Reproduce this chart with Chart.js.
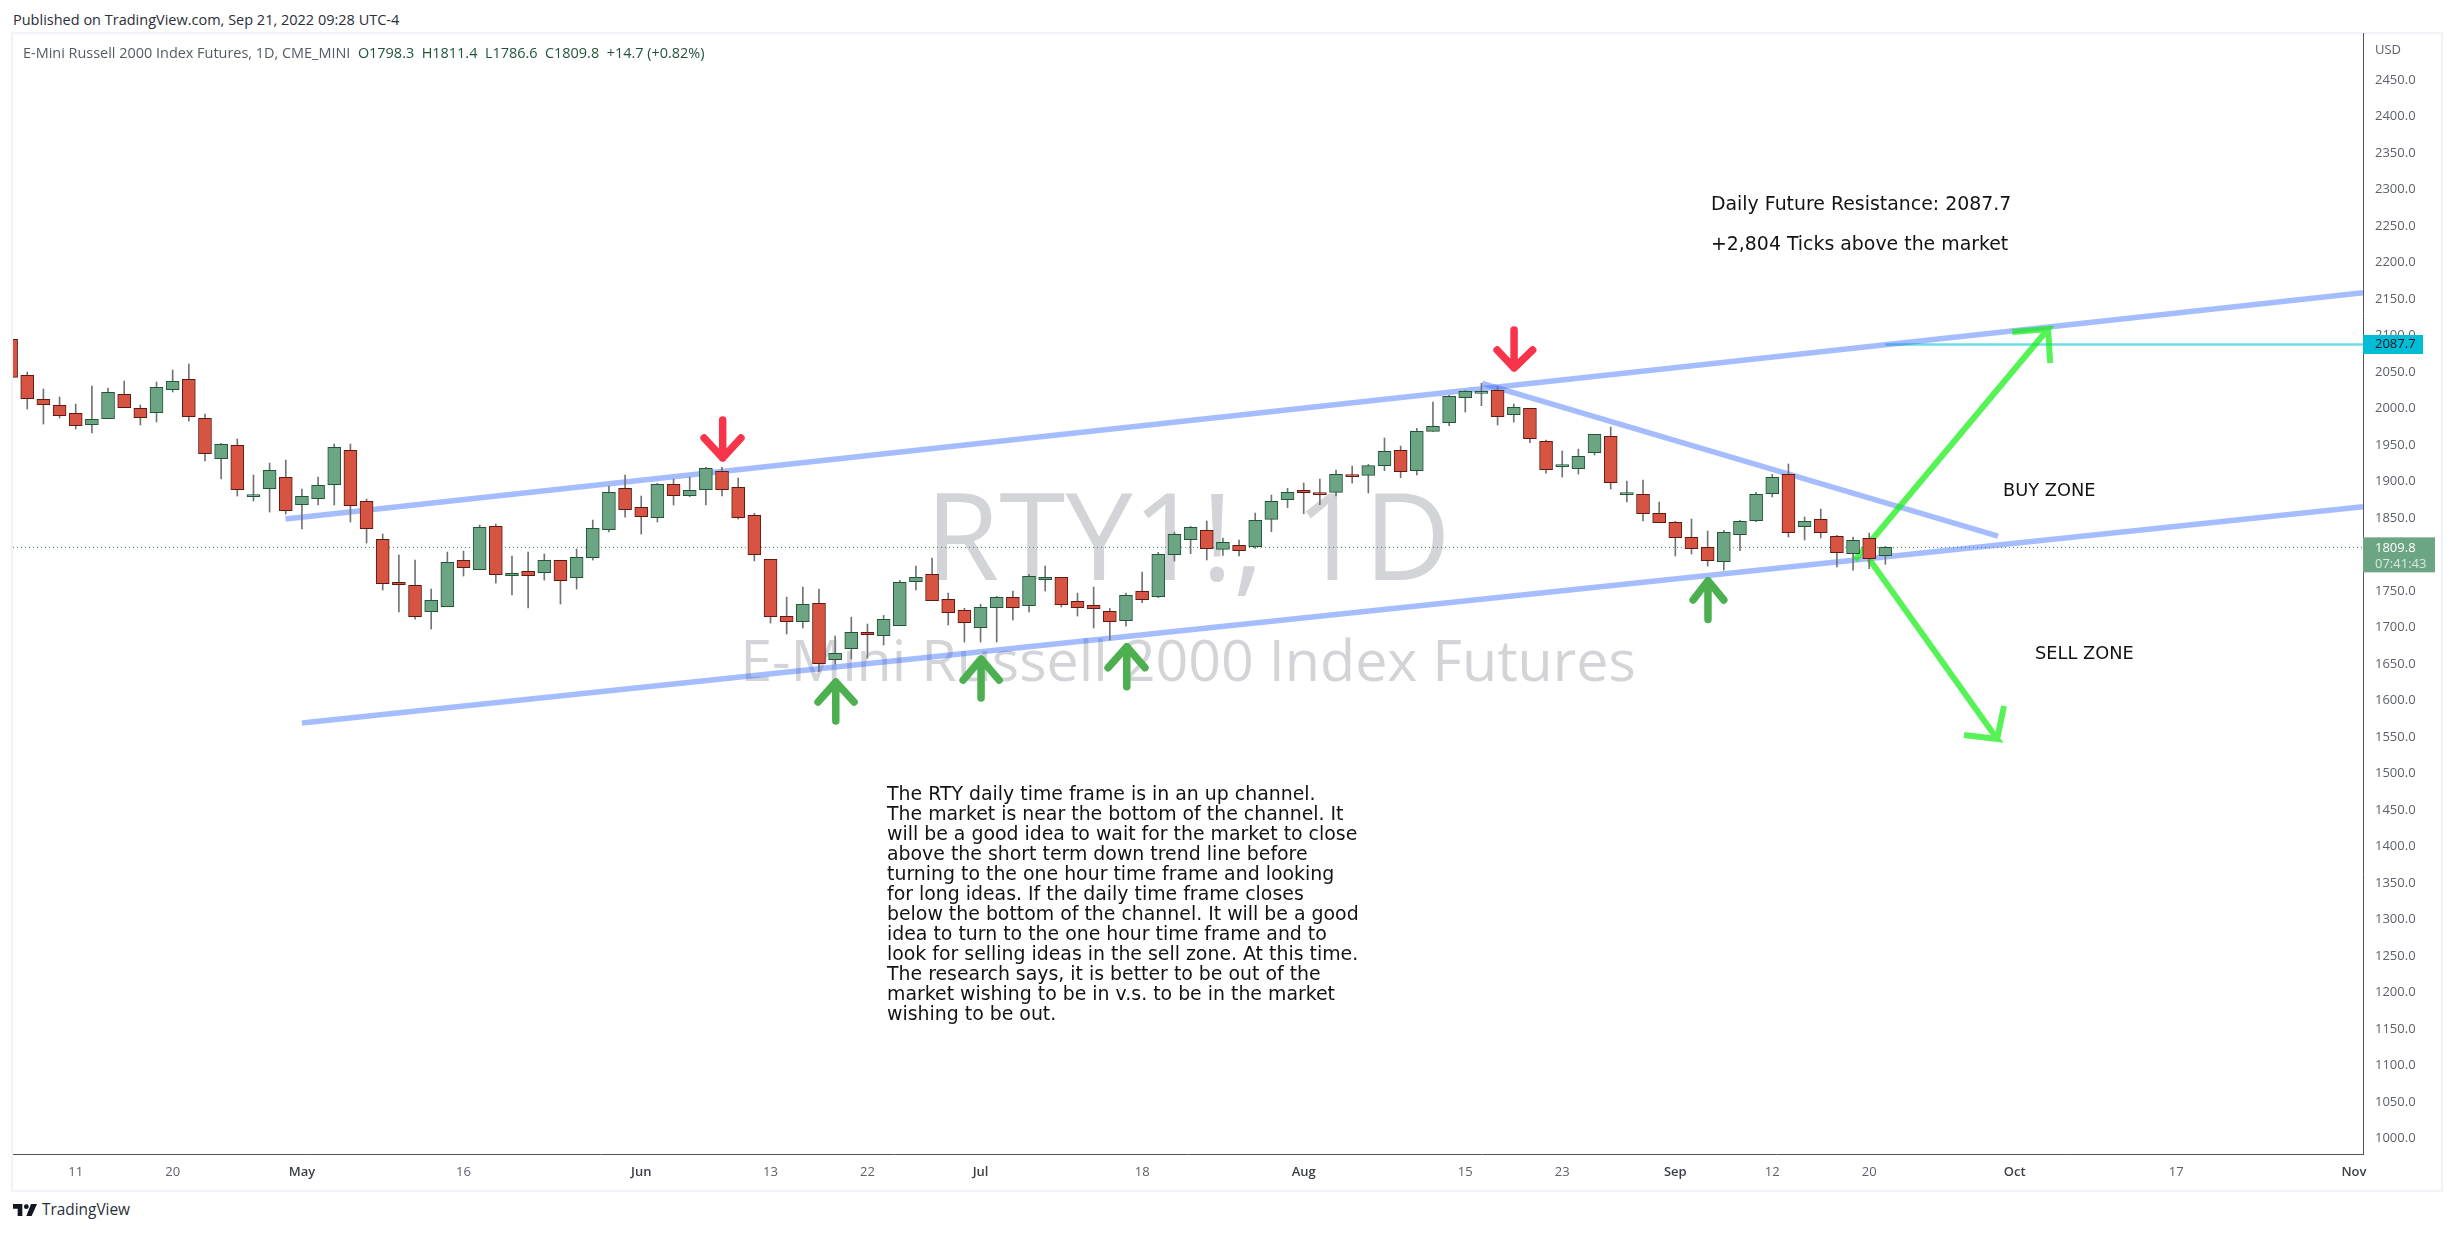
<!DOCTYPE html>
<html>
<head>
<meta charset="utf-8">
<script src="https://cdn.jsdelivr.net/npm/chart.js@4"></script>
<style>
html, body { margin: 0; padding: 0; background: #fff; width: 2453px; height: 1233px; overflow: hidden; }
body { font-family: "Open Sans", sans-serif; position: relative; }
.abs { position: absolute; white-space: pre; }
#frame { left: 11px; top: 32px; width: 2428px; height: 1156px; border: 2px solid #f0f3fa; }
#chart { position: absolute; left: 0; top: 0; z-index: 2; }
.wm { color: #d3d4d8; z-index: 1; left: 13px; width: 2350px; text-align: center; line-height: 1; }
.note { z-index: 3; color: #131313; font-family: "DejaVu Sans", sans-serif; font-size: 18.9px; line-height: 20px; }
.zone { font-size: 17.8px; }
</style>
</head>
<body>
<div class="abs" id="frame"></div>
<div class="abs" style="left:13px;top:11px;font-size:14.5px;line-height:18px;color:#2a2e39">Published on TradingView.com, Sep 21, 2022 09:28 UTC-4</div>
<div class="abs" style="left:23px;top:44px;font-size:14.45px;line-height:18px;color:#555a66;z-index:3">E-Mini Russell 2000 Index Futures, 1D, CME_MINI  <span style="color:#225437">O1798.3  H1811.4  L1786.6  C1809.8  +14.7 (+0.82%)</span></div>
<div class="abs wm" style="top:474px;font-size:120px">RTY1!, 1D</div>
<div class="abs wm" style="top:631px;font-size:57.4px">E-Mini Russell 2000 Index Futures</div>
<div class="abs note" style="left:1711px;top:193px">Daily Future Resistance: 2087.7</div>
<div class="abs note" style="left:1711px;top:233px">+2,804 Ticks above the market</div>
<div class="abs note zone" style="left:2003px;top:480px">BUY ZONE</div>
<div class="abs note zone" style="left:2035px;top:643px">SELL ZONE</div>
<div class="abs note" style="left:887px;top:783px">The RTY daily time frame is in an up channel.
The market is near the bottom of the channel. It
will be a good idea to wait for the market to close
above the short term down trend line before
turning to the one hour time frame and looking
for long ideas. If the daily time frame closes
below the bottom of the channel. It will be a good
idea to turn to the one hour time frame and to
look for selling ideas in the sell zone. At this time.
The research says, it is better to be out of the
market wishing to be in v.s. to be in the market
wishing to be out.</div>
<svg class="abs" style="left:13px;top:1204px" width="24" height="12" viewBox="0 0 36 18"><path fill="#131722" d="M14 18H7V7H0V0h14zM28 18h-8L27 0h9z"/><circle cx="20" cy="4" r="3.6" fill="#131722"/></svg>
<div class="abs" style="left:42px;top:1200px;font-size:15.4px;line-height:20px;color:#2a2e39">TradingView</div>
<canvas id="chart" width="2453" height="1233"></canvas>
<script>
const opens = [
  2094.7, 2045.4, 2012.5, 2004.3, 1993.3, 1977.8, 1986.0, 2019.4, 2000.2, 1994.3,
  2025.8, 2039.9, 1986.5, 1931.2, 1949.5, 1879.2, 1890.2, 1905.7, 1868.2, 1876.5,
  1895.6, 1942.7, 1872.8, 1820.7, 1761.8, 1757.7, 1721.7, 1728.5, 1792.0, 1779.2,
  1838.6, 1771.0, 1776.9, 1775.1, 1792.0, 1768.2, 1795.6, 1834.0, 1890.6, 1864.6,
  1850.4, 1896.1, 1880.5, 1888.8, 1913.9, 1892.0, 1853.6, 1793.3, 1715.3, 1708.0,
  1733.1, 1655.9, 1671.0, 1693.4, 1688.8, 1702.5, 1762.8, 1772.8, 1738.6, 1723.5,
  1699.8, 1727.2, 1741.3, 1729.9, 1765.5, 1768.7, 1735.8, 1730.4, 1722.1, 1709.3,
  1749.5, 1742.2, 1799.7, 1820.3, 1833.1, 1807.1, 1812.5, 1810.7, 1848.2, 1875.1,
  1887.9, 1882.4, 1885.2, 1908.4, 1908.4, 1921.7, 1942.7, 1914.8, 1968.7, 1980.6,
  2014.8, 2020.8, 2024.9, 1991.5, 2000.2, 1955.0, 1920.3, 1917.5, 1939.5, 1961.8,
  1882.0, 1882.4, 1856.4, 1844.0, 1823.5, 1809.8, 1790.1, 1827.2, 1846.3, 1883.3,
  1909.8, 1838.1, 1848.2, 1824.9, 1801.1, 1822.1, 1798.3
]
const closes = [
  2042.7, 2013.4, 2005.2, 1990.2, 1976.5, 1985.1, 2022.1, 2001.1, 1987.4, 2029.0,
  2037.2, 1988.8, 1938.1, 1950.9, 1888.8, 1881.0, 1915.3, 1860.0, 1879.7, 1894.7,
  1946.8, 1866.9, 1835.4, 1760.0, 1758.6, 1714.8, 1737.2, 1789.2, 1781.9, 1837.2,
  1772.3, 1774.2, 1771.0, 1792.0, 1764.1, 1796.1, 1835.8, 1885.1, 1861.4, 1851.8,
  1896.1, 1880.5, 1887.9, 1918.0, 1888.8, 1850.4, 1799.7, 1714.8, 1708.0, 1731.7,
  1650.4, 1664.6, 1693.4, 1690.1, 1711.2, 1761.9, 1768.7, 1736.7, 1720.3, 1706.6,
  1727.6, 1741.3, 1727.2, 1770.1, 1768.7, 1731.2, 1727.2, 1725.8, 1708.0, 1744.0,
  1738.1, 1800.2, 1827.6, 1837.2, 1807.9, 1816.7, 1805.2, 1846.8, 1872.8, 1885.2,
  1884.7, 1882.0, 1909.8, 1906.6, 1921.7, 1941.3, 1913.4, 1968.7, 1975.5, 2016.6,
  2023.5, 2023.5, 1988.8, 2001.6, 1958.6, 1916.2, 1920.7, 1934.4, 1964.6, 1898.4,
  1882.4, 1855.9, 1843.6, 1823.0, 1808.0, 1791.5, 1830.3, 1845.4, 1882.4, 1905.7,
  1829.9, 1845.4, 1829.9, 1802.5, 1819.4, 1794.3, 1809.8
]
const highs = [
  2094.7, 2050.0, 2026.7, 2015.7, 2006.1, 2030.8, 2028.1, 2037.6, 2004.8, 2036.3,
  2052.7, 2060.9, 1992.4, 1952.3, 1958.2, 1908.9, 1925.3, 1929.4, 1889.7, 1906.1,
  1951.3, 1951.3, 1876.0, 1828.1, 1799.3, 1792.4, 1752.7, 1803.4, 1804.8, 1840.4,
  1841.8, 1797.9, 1803.4, 1800.7, 1792.0, 1807.5, 1847.2, 1893.8, 1908.9, 1880.1,
  1897.4, 1903.4, 1906.1, 1919.4, 1919.4, 1904.8, 1856.3, 1793.3, 1741.7, 1755.4,
  1752.7, 1688.3, 1714.3, 1704.8, 1716.6, 1764.6, 1784.2, 1795.2, 1747.2, 1726.2,
  1731.7, 1742.7, 1750.0, 1772.8, 1784.2, 1768.7, 1747.2, 1755.4, 1726.2, 1747.2,
  1776.0, 1802.9, 1830.3, 1838.6, 1845.9, 1822.6, 1819.9, 1856.8, 1881.5, 1890.6,
  1897.9, 1903.4, 1915.7, 1921.2, 1923.5, 1959.6, 1948.6, 1972.8, 2008.9, 2018.0,
  2024.9, 2034.4, 2029.9, 2006.1, 2000.2, 1956.8, 1941.7, 1944.5, 1964.6, 1974.6,
  1900.6, 1902.0, 1871.9, 1845.4, 1848.6, 1832.2, 1833.1, 1846.8, 1885.2, 1909.8,
  1924.0, 1851.4, 1862.3, 1826.3, 1824.0, 1829.4, 1811.4
]
const lows = [
  2042.7, 1999.3, 1978.7, 1987.0, 1971.9, 1966.4, 1986.0, 2001.1, 1977.4, 1981.5,
  2022.6, 1982.8, 1928.1, 1903.4, 1880.1, 1873.3, 1858.2, 1855.4, 1834.9, 1867.8,
  1867.8, 1844.5, 1815.7, 1751.3, 1721.2, 1711.6, 1697.9, 1728.5, 1770.5, 1779.2,
  1760.9, 1744.5, 1726.7, 1765.0, 1732.2, 1752.7, 1792.4, 1830.8, 1851.3, 1828.0,
  1844.5, 1867.8, 1879.2, 1867.8, 1880.1, 1848.6, 1791.1, 1706.1, 1691.1, 1699.3,
  1639.5, 1650.0, 1656.8, 1658.2, 1676.0, 1702.5, 1751.4, 1736.7, 1703.4, 1680.1,
  1680.1, 1680.1, 1710.3, 1721.2, 1750.0, 1728.1, 1715.7, 1699.3, 1682.9, 1702.0,
  1734.0, 1740.9, 1791.1, 1801.1, 1792.5, 1798.9, 1798.0, 1808.4, 1831.3, 1864.2,
  1855.9, 1868.3, 1880.1, 1897.9, 1884.2, 1914.8, 1905.2, 1908.9, 1968.7, 1976.4,
  1995.2, 2003.8, 1977.4, 1981.5, 1953.2, 1911.6, 1906.1, 1910.2, 1936.3, 1889.7,
  1871.9, 1845.9, 1843.6, 1798.0, 1800.6, 1784.2, 1778.7, 1805.2, 1845.0, 1878.8,
  1824.0, 1819.9, 1822.6, 1782.9, 1778.7, 1780.6, 1786.6
]

const tickBars = [4, 10, 18, 28, 39, 47, 53, 60, 70, 80, 90, 96, 103, 109, 115, 124, 134, 145]
const tickLabels = ['11', '20', 'May', '16', 'Jun', '13', '22', 'Jul', '18', 'Aug', '15', '23', 'Sep', '12', '20', 'Oct', '17', 'Nov']
const monthLabels = ['May', 'Jun', 'Jul', 'Aug', 'Sep', 'Oct', 'Nov']

const firstBar = 0.118
const lastBar = 145.56
const lastClose = 1809.8
const resistance = 2087.7

// drawings, as [bar, price]
const upperChannel = [[16.98, 1848.6], [145.56, 2158.6]]
const lowerChannel = [[18.0, 1569.2], [145.56, 1865.5]]
const downTrend = [[91.04, 2034.5], [122.97, 1825.3]]
const resistanceLine = [[116, resistance], [145.56, resistance]]
const lastPriceLine = [[firstBar, lastClose], [lastBar, lastClose]]
const buyArrow = [[114.12, 1792.5], [126.07, 2108.9], [123.85, 2104.8], [126.07, 2108.9], [126.2, 2062.3]]
const sellArrow = [[114.99, 1793.8], [122.92, 1547.3], [120.87, 1552.7], [122.92, 1547.3], [123.34, 1592.5]]
const redArrows = [
  [[44.04, 1984.2], [44.04, 1932.2], [42.89, 1959.6], [44.04, 1932.2], [45.17, 1959.6]],
  [[93.02, 2107.5], [93.02, 2055.5], [91.97, 2080.1], [93.02, 2055.5], [94.17, 2080.1]]
]
const greenArrows = [
  [[51.04, 1571.9], [51.04, 1625.3], [49.94, 1598], [51.04, 1625.3], [52.17, 1598]],
  [[60.03, 1603.4], [60.03, 1656.8], [58.92, 1628], [60.03, 1656.8], [61.15, 1628]],
  [[69.05, 1618.9], [69.05, 1673.7], [67.89, 1645], [69.05, 1673.7], [70.18, 1645]],
  [[105.02, 1711], [105.02, 1764.1], [104.1, 1737.7], [105.02, 1764.1], [106, 1737.7]]
]

const upFill = '#6ba583', upEdge = '#225437'
const downFill = '#d75442', downEdge = '#5b1a13'
const font = '"Open Sans", sans-serif'

function path(points, color, width, order, extra) {
  return Object.assign({
    type: 'line',
    data: points.map(p => ({ x: p[0], y: p[1] })),
    borderColor: color,
    backgroundColor: color,
    borderWidth: width,
    pointRadius: 0,
    fill: false,
    tension: 0,
    order: order
  }, extra || {})
}

const arrowStyle = { borderCapStyle: 'round', borderJoinStyle: 'round' }
const isUp = i => closes[i] >= opens[i]

const datasets = [
  path(lastPriceLine, '#3f8060', 1, 6, { borderDash: [1, 3] }),
  path(upperChannel, 'rgba(41,98,255,0.42)', 5.5, 5),
  path(lowerChannel, 'rgba(41,98,255,0.42)', 5.5, 5),
  path(downTrend, 'rgba(41,98,255,0.42)', 5.5, 5),
  path(resistanceLine, '#6fdde6', 2.5, 5),
  path(buyArrow, 'rgba(20,238,20,0.72)', 6, 4),
  path(sellArrow, 'rgba(20,238,20,0.72)', 6, 4),
  {
    type: 'bar',
    data: opens.map((o, i) => ({ x: i, y: [lows[i], highs[i]] })),
    backgroundColor: '#737375',
    barThickness: 1,
    grouped: false,
    order: 2
  },
  {
    type: 'bar',
    data: opens.map((o, i) => ({ x: i, y: [o, closes[i]] })),
    backgroundColor: opens.map((o, i) => isUp(i) ? upFill : downFill),
    borderColor: opens.map((o, i) => isUp(i) ? upEdge : downEdge),
    borderWidth: 1,
    borderSkipped: false,
    barThickness: 13,
    minBarLength: 2,
    grouped: false,
    order: 1
  }
]
redArrows.forEach(a => datasets.push(path(a, '#f7344a', 7.5, 0, arrowStyle)))
greenArrows.forEach(a => datasets.push(path(a, '#4caf50', 7.5, 0, arrowStyle)))

const priceTags = {
  id: 'priceTags',
  afterDraw(chart) {
    const ctx = chart.ctx, y = chart.scales.y, left = chart.chartArea.right
    ctx.save()
    ctx.font = '13px ' + font
    ctx.textBaseline = 'middle'
    ctx.fillStyle = '#5d606b'
    ctx.fillText('USD', left + 12, 50)
    const ry = y.getPixelForValue(resistance)
    ctx.fillStyle = '#00bcd4'
    ctx.fillRect(left, ry - 9.5, 60, 19)
    ctx.fillStyle = '#131722'
    ctx.fillText(resistance.toFixed(1), left + 12, ry)
    const cy = y.getPixelForValue(lastClose)
    ctx.fillStyle = upFill
    ctx.fillRect(left, cy - 10, 72, 35)
    ctx.fillStyle = '#ffffff'
    ctx.fillText(lastClose.toFixed(1), left + 12, cy + 1)
    ctx.fillStyle = 'rgba(255,255,255,0.75)'
    ctx.fillText('07:41:43', left + 12, cy + 17)
    ctx.restore()
  }
}

new Chart(document.getElementById('chart'), {
  type: 'bar',
  data: { datasets: datasets },
  plugins: [priceTags],
  options: {
    responsive: false,
    devicePixelRatio: 1,
    animation: false,
    layout: { padding: { left: 13, top: 33, right: 0, bottom: 0 } },
    plugins: { legend: { display: false }, tooltip: { enabled: false } },
    scales: {
      x: {
        type: 'linear',
        offset: false,
        min: firstBar,
        max: lastBar,
        grid: { display: false, drawTicks: false },
        border: { color: '#50535e', width: 1 },
        afterBuildTicks: scale => { scale.ticks = tickBars.map(v => ({ value: v })) },
        afterFit: scale => { scale.height = 79 },
        ticks: {
          autoSkip: false,
          maxRotation: 0,
          padding: 10,
          callback: (v, i) => tickLabels[i],
          font: ctx => ({ family: font, size: 13, weight: monthLabels.includes(ctx.tick && ctx.tick.label) ? '600' : '400' }),
          color: ctx => monthLabels.includes(ctx.tick && ctx.tick.label) ? '#3c3f48' : '#5d606b'
        }
      },
      y: {
        position: 'right',
        min: 978.8,
        max: 2514.4,
        grid: { display: false, drawTicks: false },
        border: { color: '#50535e', width: 1 },
        afterBuildTicks: scale => { scale.ticks = scale.ticks.filter(t => t.value >= 1000 && t.value <= 2450) },
        afterFit: scale => { scale.width = 90 },
        ticks: {
          stepSize: 50,
          autoSkip: false,
          padding: 12,
          callback: v => v.toFixed(1),
          font: { family: font, size: 13 },
          color: '#5d606b'
        }
      }
    }
  }
})
</script>
</body>
</html>
